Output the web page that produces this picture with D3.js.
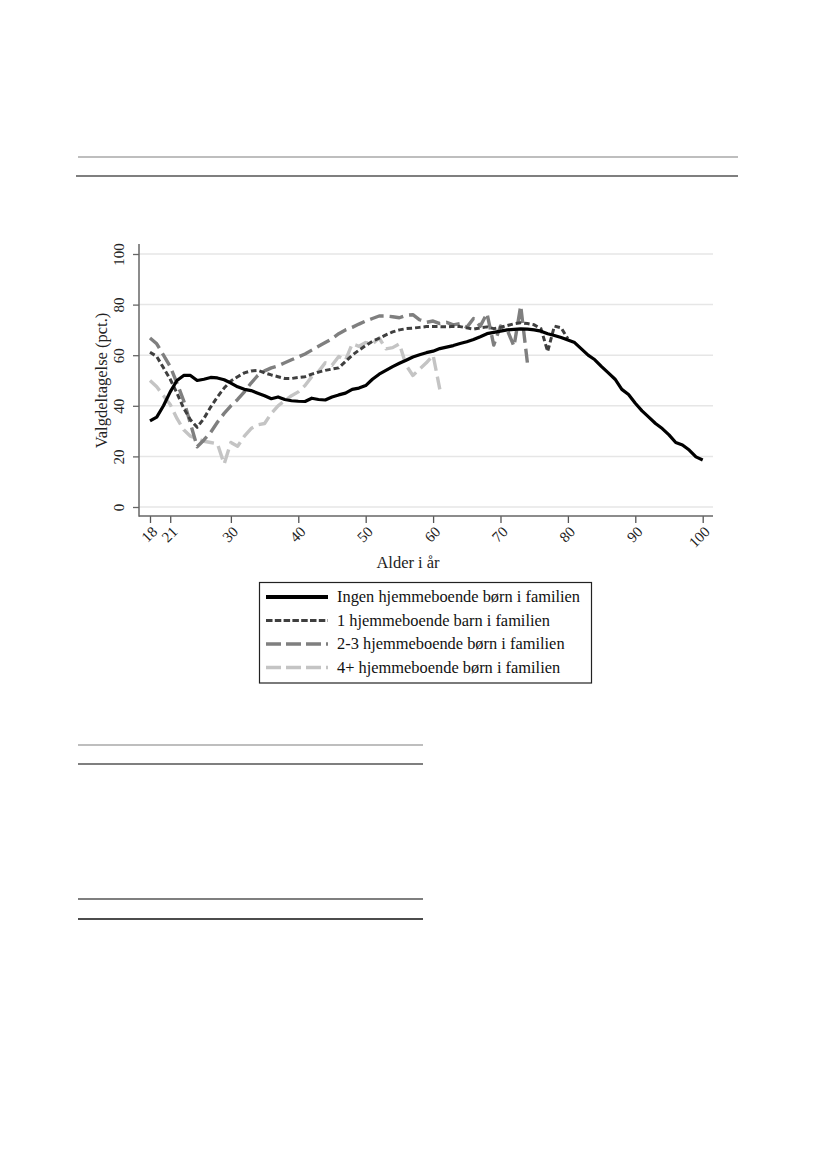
<!DOCTYPE html>
<html><head><meta charset="utf-8">
<script src="https://cdn.jsdelivr.net/npm/d3@7"></script>
<style>body{margin:0;background:#fff}svg{display:block}</style>
</head><body>
<svg id="c" width="827" height="1169"></svg>
<script>
const firstAge = 18;
const xTicks = [18, 21, 30, 40, 50, 60, 70, 80, 90, 100];
const yTicks = [0, 20, 40, 60, 80, 100];
const seriesNames = ["Ingen hjemmeboende børn i familien", "1 hjemmeboende barn i familien", "2-3 hjemmeboende børn i familien", "4+ hjemmeboende børn i familien"];
// values by age, starting at age 18
const ingen = [34,35.5,40,45.5,50,52,52,50,50.5,51.2,51,50.3,49,47.5,46.5,46,45,44,42.8,43.5,42.5,42,41.8,41.7,43,42.5,42.3,43.5,44.3,45,46.5,47,48,50.5,52.5,54,55.5,56.8,58,59.3,60.2,61,61.6,62.6,63.2,63.8,64.6,65.3,66.2,67.3,68.5,69,69.5,70,70.2,70.4,70.3,70,69.5,68.5,67.8,67,66,65,62.5,60,58.2,55.5,53,50.5,46.5,44.5,41,38,35.5,33,31,28.5,25.5,24.5,22.5,19.8,18.6];
const barn1 = [61.2,59.5,55,50.5,45,39,34.5,31.5,35,39.5,43.5,47,49.8,51.5,53,53.8,54,53,52.2,51.5,50.8,50.8,51.2,51.5,52.5,53.3,54,54.5,55,57.5,60,62,63.8,65.5,66.7,68,69.2,70,70.5,70.7,71,71.3,71.3,71.3,71.2,71.4,71.3,70.8,70.3,70.8,71.2,70.5,71,71.7,72.4,72.8,72.5,72,70.5,61.5,71.5,70.8,66.5];
const born23 = [66.8,64.5,60,55.5,49,42,33,23.8,26.5,29.5,33.5,37,40,42.5,45.5,49,52,53.8,55,55.8,57,58.2,59.3,60.5,62,63.5,65,66.5,68.5,70,71,72.3,73.5,74.5,75.5,75.5,75.2,74.8,75.8,76,74,73,73.5,72.5,73,72,72.5,71,74.5,71.5,76.5,64,71.5,70,63.5,79.5,56.8];
const born4 = [50,47.5,44,40.5,35,30.5,28,27,26,25.5,25,17,25.5,24,28,31,32.5,33,37,40,42,44,45.5,48,51.5,53.5,57,56,59.5,58,64.5,63.5,65,64.5,66.8,62.5,63,64.5,56,52,54.5,57,60,46.5];
const seriesValues = [ingen, barn1, born23, born4];

const styles = [
  {color:"#000000", width:3.2, dash:null},
  {color:"#3f3f3f", width:3, dash:"5.5,3"},
  {color:"#7f7f7f", width:3.4, dash:"14,6"},
  {color:"#c4c4c4", width:3.4, dash:"14,6"}
];
const serif = "'Liberation Serif','Times New Roman',serif";
const svg = d3.select("#c");

// table rules
const rules = [
  {x1:78,x2:738,y:157,c:"#a8a8a8"},
  {x1:76,x2:738,y:176,c:"#555"},
  {x1:78,x2:423,y:745,c:"#a8a8a8"},
  {x1:78,x2:423,y:764,c:"#555"},
  {x1:78,x2:423,y:899,c:"#555"},
  {x1:78,x2:423,y:919,c:"#111"}
];
svg.selectAll("line.rule").data(rules).join("line").attr("class","rule")
  .attr("x1",d=>d.x1).attr("x2",d=>d.x2).attr("y1",d=>d.y).attr("y2",d=>d.y)
  .attr("stroke",d=>d.c).attr("stroke-width",1.3);

const x = d3.scaleLinear().domain([18,100]).range([150,702.7]);
const y = d3.scaleLinear().domain([0,100]).range([507,254]);
const pLeft = 139, pRight = 713, pBottom = 516, pTop = 244;

// gridlines
svg.append("g").selectAll("line").data(yTicks).join("line")
  .attr("x1",pLeft).attr("x2",pRight).attr("y1",d=>y(d)).attr("y2",d=>y(d))
  .attr("stroke","#e6e6e6").attr("stroke-width",1.5);

// axes
const gy = svg.append("g").attr("transform",`translate(${pLeft},0)`)
  .call(d3.axisLeft(y).tickValues(yTicks).tickSize(6).tickFormat(d3.format("d")));
gy.select(".domain").remove();
gy.selectAll(".tick line").attr("stroke","#666").attr("stroke-width",1.3);
gy.selectAll(".tick text").attr("x",0).attr("dy",0).attr("text-anchor","middle")
  .attr("transform","translate(-15,0) rotate(-90)")
  .style("font-family",serif).style("font-size","15px").attr("fill","#222");

const gx = svg.append("g").attr("transform",`translate(0,${pBottom})`)
  .call(d3.axisBottom(x).tickValues(xTicks).tickSize(7).tickFormat(d3.format("d")));
gx.select(".domain").remove();
gx.selectAll(".tick line").attr("stroke","#555").attr("stroke-width",1.3);
gx.selectAll(".tick text").attr("x",0).attr("y",0).attr("dy","0.35em").attr("text-anchor","end")
  .attr("transform","translate(4,13) rotate(-45)")
  .style("font-family",serif).style("font-size","15px").attr("fill","#222");

svg.append("line").attr("x1",pLeft).attr("x2",pLeft).attr("y1",pTop).attr("y2",pBottom+0.7)
  .attr("stroke","#666").attr("stroke-width",1.5);
svg.append("line").attr("x1",pLeft).attr("x2",pRight).attr("y1",pBottom).attr("y2",pBottom)
  .attr("stroke","#666").attr("stroke-width",1.5);

// axis titles
svg.append("text").attr("transform",`translate(107,${(y(0)+y(100))/2}) rotate(-90)`)
  .attr("text-anchor","middle").style("font-family",serif).style("font-size","16.5px").attr("fill","#222")
  .text("Valgdeltagelse (pct.)");
svg.append("text").attr("x",408).attr("y",568).attr("text-anchor","middle")
  .style("font-family",serif).style("font-size","16.5px").attr("fill","#222").text("Alder i år");

// series lines
const line = d3.line().x((d,i)=>x(firstAge+i)).y(d=>y(d)).curve(d3.curveLinear);
const order = [3,2,1,0];
svg.append("g").selectAll("path").data(order).join("path")
  .attr("d",k=>line(seriesValues[k])).attr("fill","none")
  .attr("stroke",k=>styles[k].color).attr("stroke-width",k=>styles[k].width)
  .attr("stroke-dasharray",k=>styles[k].dash).attr("stroke-linejoin","round");

// legend
const lg = svg.append("g");
lg.append("rect").attr("x",259.5).attr("y",582.5).attr("width",332).attr("height",100.5)
  .attr("fill","#fff").attr("stroke","#222").attr("stroke-width",1.2);
const rowY = [597, 620.5, 644, 667.5];
const items = lg.selectAll("g.it").data(seriesNames).join("g").attr("class","it")
  .attr("transform",(d,i)=>`translate(0,${rowY[i]})`);
items.append("line").attr("x1",266).attr("x2",328).attr("y1",0).attr("y2",0)
  .attr("stroke",(d,i)=>styles[i].color).attr("stroke-width",(d,i)=>i===0?3.8:styles[i].width)
  .attr("stroke-dasharray",(d,i)=>i===1?"6.5,2.3":(i>=2?"15,5":null));
items.append("text").attr("x",337).attr("y",0).attr("dy","0.33em")
  .style("font-family",serif).style("font-size","16.4px").attr("fill","#111").text(d=>d);
</script>
</body></html>
